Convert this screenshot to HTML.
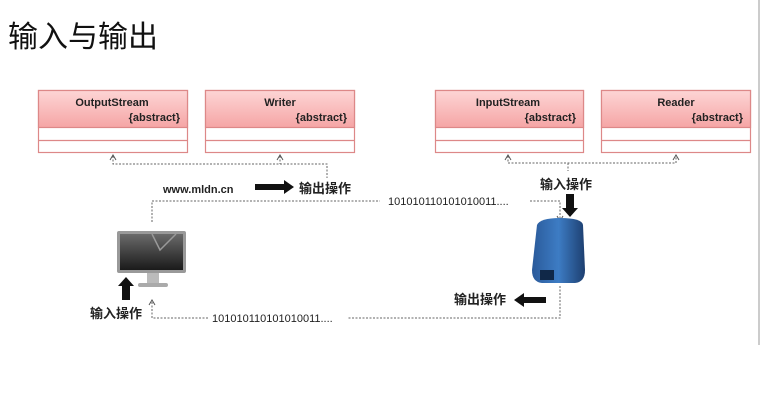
<!DOCTYPE html>
<html><head><meta charset="utf-8"><style>
body{margin:0;background:#fff;}
svg{display:block;font-family:"Liberation Sans","Noto Sans CJK SC",sans-serif;}
</style></head><body>
<svg width="763" height="402" viewBox="0 0 763 402">
<defs>
<linearGradient id="hd" x1="0" y1="0" x2="0" y2="1"><stop offset="0" stop-color="#fdd5d5"/><stop offset="1" stop-color="#f5a5a5"/></linearGradient>
<linearGradient id="scr" x1="0" y1="0" x2="0" y2="1"><stop offset="0" stop-color="#6a6a6a"/><stop offset="1" stop-color="#1a1a1a"/></linearGradient>
<linearGradient id="blu" x1="0" y1="0" x2="1" y2="0"><stop offset="0" stop-color="#2a5a9a"/><stop offset="0.5" stop-color="#3d7cc4"/><stop offset="1" stop-color="#1d3f70"/></linearGradient>
</defs>
<text x="8" y="47" font-size="30" fill="#111">输入与输出</text>
<line x1="759" y1="0" x2="759" y2="345" stroke="#bbb" stroke-width="1.5"/>
<g stroke="#d88" stroke-width="1.2">
<rect x="38.5" y="90.5" width="149" height="62" fill="#fff"/><rect x="38.5" y="90.5" width="149" height="37" fill="url(#hd)"/><line x1="38" y1="140.5" x2="188" y2="140.5"/>
<rect x="205.5" y="90.5" width="149" height="62" fill="#fff"/><rect x="205.5" y="90.5" width="149" height="37" fill="url(#hd)"/><line x1="205" y1="140.5" x2="355" y2="140.5"/>
<rect x="435.5" y="90.5" width="148" height="62" fill="#fff"/><rect x="435.5" y="90.5" width="148" height="37" fill="url(#hd)"/><line x1="435" y1="140.5" x2="584" y2="140.5"/>
<rect x="601.5" y="90.5" width="149" height="62" fill="#fff"/><rect x="601.5" y="90.5" width="149" height="37" fill="url(#hd)"/><line x1="601" y1="140.5" x2="751" y2="140.5"/>
</g>
<g font-size="11" font-weight="bold" fill="#222">
<text x="112" y="106" text-anchor="middle">OutputStream</text><text x="180" y="121" text-anchor="end">{abstract}</text>
<text x="280" y="106" text-anchor="middle">Writer</text><text x="347" y="121" text-anchor="end">{abstract}</text>
<text x="508" y="106" text-anchor="middle">InputStream</text><text x="576" y="121" text-anchor="end">{abstract}</text>
<text x="676" y="106" text-anchor="middle">Reader</text><text x="743" y="121" text-anchor="end">{abstract}</text>
</g>
<g fill="none" stroke="#666" stroke-width="1" stroke-dasharray="2,1.5">
<path d="M113 156V164H327V178"/><path d="M280 156V164"/>
<path d="M508 156V163H676V156"/><path d="M568 163V171"/>
<path d="M152 222V201H380"/><path d="M530 201H560V220"/>
<path d="M560 286V318H348"/><path d="M208 318H152V300"/>
</g>
<g fill="none" stroke="#555" stroke-width="1">
<path d="M110 160L113 155L116 160"/><path d="M277 160L280 155L283 160"/>
<path d="M505 160L508 155L511 160"/><path d="M673 160L676 155L679 160"/>
<path d="M557 216L560 221L563 216"/><path d="M149 305L152 300L155 305"/>
</g>
<g font-size="11" fill="#222">
<text x="163" y="193" font-weight="bold">www.mldn.cn</text>
<text x="388" y="205">101010110101010011....</text>
<text x="212" y="322">101010110101010011....</text>
</g>
<g font-size="13" font-weight="bold" fill="#222">
<text x="299" y="193">输出操作</text>
<text x="540" y="189">输入操作</text>
<text x="454" y="304">输出操作</text>
<text x="90" y="318">输入操作</text>
</g>
<g fill="#111">
<path d="M255 184H284V180L294 187L284 194V190H255Z"/>
<path d="M566 194H574V208H578L570 217L562 208H566Z"/>
<path d="M546 297H524V293L514 300L524 307V303H546Z"/>
<path d="M122 300V286H118L126 277L134 286H130V300Z"/>
</g>
<rect x="117" y="231" width="69" height="42" rx="2" fill="#999"/>
<rect x="120" y="234" width="63" height="36" fill="url(#scr)"/>
<path d="M152 234L160 250L176 234" stroke="#999" stroke-width="1.5" fill="none"/>
<rect x="147" y="273" width="12" height="10" fill="#bbb"/>
<rect x="138" y="283" width="30" height="4" rx="2" fill="#aaa"/>
<path d="M537 225Q540 218 560 218Q582 218 583 225L585 270Q585 282 575 283H542Q532 282 532 270Z" fill="url(#blu)"/>
<rect x="540" y="270" width="14" height="10" fill="#102848"/>
</svg>
</body></html>
